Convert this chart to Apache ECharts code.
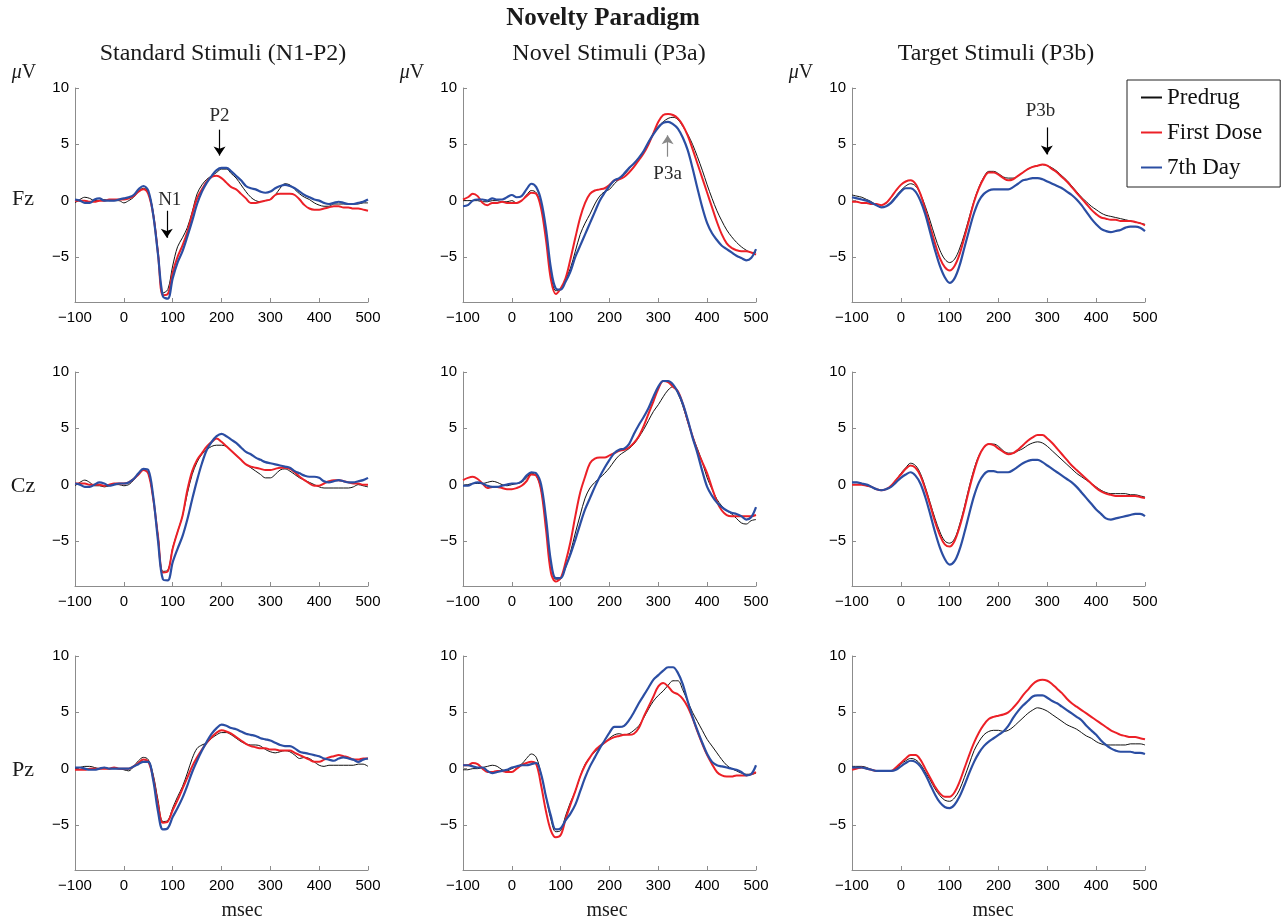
<!DOCTYPE html>
<html>
<head>
<meta charset="utf-8">
<script src="https://cdn.jsdelivr.net/npm/echarts@6/dist/echarts.min.js"></script>
<style>
  html, body { margin: 0; padding: 0; background: #fff; }
  #chart { width: 1287px; height: 924px; }
</style>
</head>
<body>
<div id="chart"></div>
<script>
// time axis (msec)
const times = [-100,-90,-80,-70,-60,-50,-40,-30,-20,-10,
  0,10,20,30,40,50,60,70,80,90,
  100,110,120,130,140,150,160,170,180,190,
  200,210,220,230,240,250,260,270,280,290,
  300,310,320,330,340,350,360,370,380,390,
  400,410,420,430,440,450,460,470,480,490,
  500];
const seriesNames = ['Predrug', 'First Dose', '7th Day'];
const rowNames = ['Fz', 'Cz', 'Pz'];
const colNames = ['Standard Stimuli (N1-P2)', 'Novel Stimuli (P3a)', 'Target Stimuli (P3b)'];
const yTicks = [-5, 0, 5, 10];

// Standard stimuli
const stdFzPre = [-0.2,0.1,0.3,0.2,0.0,0.0,0.1,0.0,0.0,0.0,
  -0.2,0.0,0.3,0.8,1.1,0.8,-1.0,-4.5,-8.2,-7.9,
  -5.8,-4.1,-3.3,-2.4,-1.0,0.6,1.4,1.9,2.2,2.5,
  2.8,2.8,2.4,2.0,1.4,0.8,0.3,0.0,-0.1,0.0,
  0.1,0.5,1.1,1.5,1.4,1.0,0.6,0.3,0.1,-0.2,
  -0.4,-0.5,-0.5,-0.3,-0.3,-0.3,-0.3,-0.3,-0.3,-0.2,
  -0.2];
const stdFzFirst = [0.0,0.0,0.0,-0.1,-0.1,0.0,0.0,0.1,0.1,0.1,
  0.1,0.2,0.4,0.8,1.0,0.6,-1.2,-4.7,-8.4,-8.3,
  -6.4,-5.0,-4.0,-2.8,-1.2,0.2,1.0,1.7,2.1,2.2,
  2.0,1.6,1.2,1.0,0.6,0.2,-0.2,-0.2,-0.1,0.0,
  0.1,0.5,0.6,0.6,0.6,0.5,0.1,-0.4,-0.7,-0.8,
  -0.8,-0.7,-0.6,-0.5,-0.5,-0.6,-0.6,-0.7,-0.7,-0.8,
  -0.9];
const stdFzDay7 = [0.1,0.0,-0.2,-0.2,0.1,0.2,0.0,0.0,0.0,0.1,
  0.2,0.3,0.5,1.0,1.3,0.9,-1.2,-4.8,-8.5,-8.7,
  -6.9,-5.5,-4.5,-3.2,-1.8,-0.3,0.8,1.6,2.2,2.7,
  2.9,2.9,2.6,2.2,1.8,1.3,1.1,1.0,0.8,0.7,
  0.8,1.1,1.3,1.4,1.3,1.1,0.8,0.5,0.3,0.1,
  0.0,-0.2,-0.3,-0.2,-0.1,-0.2,-0.3,-0.3,-0.2,-0.1,
  0.1];
const stdCzPre = [-0.1,0.2,0.4,0.2,-0.1,-0.1,-0.2,-0.1,0.0,0.0,
  -0.1,0.0,0.4,0.9,1.3,1.0,-1.2,-4.5,-7.7,-7.6,
  -5.6,-4.2,-2.8,-0.8,0.9,2.0,2.7,3.1,3.4,3.5,
  3.5,3.4,3.0,2.6,2.2,1.8,1.5,1.2,0.9,0.6,
  0.6,0.9,1.3,1.4,1.2,0.9,0.6,0.4,0.2,0.0,
  -0.2,-0.3,-0.3,-0.3,-0.3,-0.3,-0.3,-0.2,0.0,-0.1,
  -0.2];
const stdCzFirst = [0.1,0.1,0.1,0.0,0.0,0.0,-0.1,0.0,0.1,0.1,
  0.1,0.2,0.5,0.9,1.3,1.0,-1.2,-4.6,-7.8,-7.7,
  -5.7,-4.2,-2.8,-0.5,1.2,2.2,2.8,3.4,3.8,4.1,
  3.8,3.4,3.0,2.6,2.2,1.8,1.6,1.5,1.4,1.3,
  1.3,1.4,1.5,1.5,1.4,1.1,0.7,0.4,0.1,-0.1,
  -0.1,0.1,0.3,0.4,0.4,0.3,0.2,0.1,0.1,0.0,
  0.0];
const stdCzDay7 = [0.1,0.0,-0.2,-0.2,0.0,0.2,0.1,-0.1,0.0,0.1,
  0.1,0.2,0.5,1.0,1.4,1.3,-1.0,-5.0,-8.4,-8.5,
  -6.9,-5.7,-4.6,-3.1,-1.3,0.4,1.9,3.1,3.8,4.3,
  4.5,4.3,4.0,3.7,3.3,2.9,2.7,2.4,2.2,2.0,
  1.9,1.8,1.7,1.6,1.5,1.2,1.0,0.8,0.7,0.7,
  0.6,0.3,0.2,0.3,0.4,0.3,0.2,0.2,0.3,0.4,
  0.6];
const stdPzPre = [0.0,0.1,0.2,0.2,0.1,0.0,0.1,0.0,0.0,0.0,
  -0.1,-0.2,0.2,0.7,1.0,0.8,-0.5,-2.8,-4.7,-4.6,
  -3.5,-2.5,-1.6,-0.4,0.9,1.8,2.1,2.3,2.7,3.0,
  3.2,3.2,3.0,2.7,2.4,2.2,2.1,2.1,2.0,1.7,
  1.5,1.4,1.5,1.6,1.5,1.2,0.9,1.0,0.9,0.6,
  0.3,0.2,0.3,0.3,0.3,0.3,0.3,0.3,0.4,0.4,
  0.2];
const stdPzFirst = [-0.1,-0.1,-0.1,0.0,0.0,0.0,0.0,0.0,0.1,0.0,
  0.0,0.0,0.2,0.5,0.8,0.6,-0.8,-3.2,-4.8,-4.7,
  -3.7,-2.8,-1.8,-0.8,0.2,1.0,1.7,2.3,2.8,3.2,
  3.4,3.3,3.1,2.8,2.5,2.2,2.0,1.9,1.8,1.8,
  1.7,1.7,1.6,1.6,1.6,1.4,1.2,1.0,0.8,0.6,
  0.6,0.8,1.0,1.1,1.2,1.1,1.0,0.8,0.8,0.9,
  0.9];
const stdPzDay7 = [0.1,0.1,0.0,-0.1,-0.1,0.0,0.1,0.0,0.0,0.0,
  0.0,0.0,0.2,0.4,0.6,0.6,-1.0,-3.8,-5.4,-5.3,
  -4.3,-3.5,-2.6,-1.5,-0.3,0.7,1.6,2.4,3.1,3.6,
  3.9,3.8,3.6,3.5,3.3,3.1,3.0,2.9,2.7,2.6,
  2.5,2.3,2.1,2.0,2.0,1.8,1.5,1.4,1.3,1.2,
  1.1,0.9,0.8,0.7,0.9,1.0,0.9,0.8,0.6,0.8,
  0.9];

// Novel stimuli
const nvFzPre = [0.0,0.0,0.0,0.0,-0.1,-0.1,0.0,0.0,-0.1,-0.1,
  0.0,-0.2,0.0,0.5,0.9,0.7,-0.5,-3.0,-6.5,-8.0,
  -7.8,-7.0,-6.0,-4.5,-3.0,-2.0,-1.2,-0.3,0.4,0.8,
  1.0,1.5,1.9,2.3,2.8,3.3,3.8,4.4,5.2,6.0,
  6.6,7.0,7.3,7.4,7.2,6.6,5.9,5.0,3.9,2.7,
  1.4,0.2,-0.9,-1.8,-2.6,-3.2,-3.7,-4.1,-4.4,-4.6,
  -4.6];
const nvFzFirst = [0.1,0.3,0.6,0.4,-0.2,-0.4,-0.2,-0.2,-0.1,-0.2,
  -0.2,-0.2,0.0,0.4,0.7,0.6,-0.7,-3.5,-7.0,-8.3,
  -7.8,-6.9,-5.2,-3.3,-1.5,-0.2,0.6,0.9,1.0,1.1,
  1.4,1.8,1.9,2.1,2.5,3.0,3.6,4.2,5.0,6.0,
  7.0,7.6,7.7,7.6,7.3,6.7,5.8,4.6,3.3,2.0,
  0.7,-0.6,-1.9,-3.0,-3.8,-4.2,-4.4,-4.5,-4.5,-4.6,
  -4.8];
const nvFzDay7 = [-0.5,-0.4,0.0,0.1,0.1,0.0,0.2,0.1,0.1,0.3,
  0.5,0.3,0.4,1.0,1.5,1.2,0.0,-2.5,-6.0,-7.8,
  -7.9,-7.2,-6.3,-5.0,-4.0,-3.0,-2.0,-1.0,0.0,0.7,
  1.3,1.8,2.0,2.4,2.9,3.3,3.8,4.4,5.2,5.9,
  6.5,6.9,7.0,6.8,6.4,5.6,4.5,2.9,1.1,-0.6,
  -2.0,-2.9,-3.5,-4.0,-4.3,-4.6,-4.9,-5.1,-5.3,-5.1,
  -4.3];
const nvCzPre = [-0.1,0.0,0.1,0.1,0.1,0.2,0.3,0.2,0.0,-0.1,
  0.0,0.1,0.2,0.6,1.0,0.8,-0.5,-3.5,-7.0,-8.4,
  -8.3,-7.4,-6.0,-4.3,-2.7,-1.2,-0.3,0.2,0.6,1.0,
  1.5,2.1,2.6,2.9,3.2,3.6,4.2,4.9,5.7,6.5,
  7.1,7.8,8.4,8.7,8.1,7.0,5.6,4.3,3.2,2.0,
  0.6,-0.4,-1.3,-1.9,-2.3,-2.6,-3.0,-3.4,-3.5,-3.2,
  -3.1];
const nvCzFirst = [0.4,0.6,0.7,0.5,0.1,-0.3,-0.2,-0.2,-0.3,-0.4,
  -0.4,-0.3,-0.1,0.3,0.9,0.8,-0.5,-4.0,-7.8,-8.6,
  -8.3,-6.9,-5.1,-2.8,-0.7,0.7,1.9,2.3,2.4,2.4,
  2.6,2.8,3.0,3.1,3.3,3.7,4.3,5.2,6.3,7.4,
  8.5,9.2,9.1,8.7,8.3,7.2,5.7,4.3,3.0,2.0,
  1.0,-0.3,-1.5,-2.3,-2.7,-2.8,-2.8,-2.8,-2.8,-2.8,
  -2.7];
const nvCzDay7 = [-0.1,-0.1,0.1,0.2,0.1,-0.1,-0.2,-0.2,-0.1,0.0,
  0.1,0.1,0.3,0.8,1.1,1.0,0.0,-3.0,-6.8,-8.3,
  -8.3,-7.3,-6.2,-4.9,-3.5,-2.2,-1.2,-0.2,0.7,1.5,
  2.2,2.8,3.1,3.2,3.6,4.5,5.3,6.0,6.8,7.8,
  8.7,9.2,9.2,8.9,8.2,7.2,5.8,4.2,2.8,1.2,
  -0.2,-1.0,-1.6,-2.0,-2.3,-2.5,-2.6,-2.8,-3.1,-2.9,
  -2.0];
const nvPzPre = [-0.1,-0.1,0.0,0.0,0.1,0.2,0.3,0.2,-0.1,-0.2,
  0.0,0.2,0.4,0.9,1.3,1.0,-0.5,-2.5,-4.5,-5.6,
  -5.5,-4.2,-3.0,-2.0,-0.7,0.4,1.0,1.5,1.9,2.3,
  2.7,3.0,3.1,3.0,3.1,3.4,3.8,4.5,5.3,6.0,
  6.5,6.9,7.4,7.8,7.8,7.0,6.0,5.0,4.2,3.4,
  2.6,2.0,1.4,0.8,0.3,0.0,-0.2,-0.4,-0.5,-0.5,
  -0.4];
const nvPzFirst = [0.3,0.3,0.5,0.4,0.0,-0.3,-0.3,-0.2,-0.2,-0.3,
  -0.3,0.0,0.3,0.5,0.6,0.4,-1.5,-3.8,-5.5,-6.1,
  -5.9,-4.5,-3.2,-2.0,-0.7,0.3,1.0,1.6,2.0,2.3,
  2.6,2.8,2.9,3.0,3.0,3.1,3.6,4.6,5.5,6.4,
  7.3,7.6,7.3,6.8,6.6,6.2,5.5,4.5,3.3,2.2,
  1.2,0.4,-0.3,-0.6,-0.7,-0.7,-0.6,-0.6,-0.6,-0.5,
  -0.3];
const nvPzDay7 = [0.3,0.3,0.2,0.1,0.1,-0.2,-0.4,-0.3,-0.2,-0.1,
  0.1,0.2,0.3,0.3,0.4,0.5,-0.5,-2.5,-4.2,-5.4,
  -5.3,-4.6,-4.0,-3.2,-2.0,-0.8,0.2,1.0,1.8,2.5,
  3.2,3.7,3.7,3.8,4.3,5.0,5.8,6.5,7.2,7.9,
  8.3,8.7,9.0,9.0,8.5,7.5,6.0,4.6,3.4,2.3,
  1.3,0.6,0.3,0.2,0.1,0.0,-0.1,-0.3,-0.6,-0.5,
  0.3];

// Target stimuli
const tgFzPre = [0.5,0.4,0.3,0.1,-0.1,-0.4,-0.6,-0.5,-0.1,0.4,
  0.9,1.3,1.5,1.3,0.6,-0.5,-1.8,-3.2,-4.4,-5.2,
  -5.5,-5.2,-4.3,-3.0,-1.5,0.0,1.2,2.1,2.6,2.6,
  2.4,2.1,2.0,2.0,2.2,2.5,2.8,3.0,3.1,3.2,
  3.1,2.9,2.6,2.2,1.8,1.3,0.8,0.3,-0.1,-0.5,
  -0.8,-1.1,-1.3,-1.4,-1.5,-1.6,-1.7,-1.8,-1.9,-2.0,
  -2.1];
const tgFzFirst = [-0.1,-0.1,-0.2,-0.2,-0.3,-0.3,-0.4,-0.2,0.3,0.9,
  1.4,1.7,1.8,1.5,0.6,-0.8,-2.3,-3.8,-5.1,-5.9,
  -6.2,-5.8,-4.8,-3.3,-1.7,-0.1,1.1,2.0,2.5,2.5,
  2.3,2.0,1.8,1.9,2.2,2.5,2.8,3.0,3.1,3.2,
  3.1,2.8,2.5,2.1,1.7,1.2,0.7,0.2,-0.3,-0.8,
  -1.2,-1.5,-1.6,-1.7,-1.7,-1.8,-1.8,-1.8,-1.9,-2.0,
  -2.2];
const tgFzDay7 = [0.3,0.2,0.1,0.0,-0.2,-0.4,-0.6,-0.5,-0.2,0.3,
  0.8,1.1,1.1,0.8,0.0,-1.2,-2.8,-4.4,-5.8,-6.8,
  -7.3,-6.9,-5.8,-4.2,-2.6,-1.1,0.0,0.6,0.9,1.0,
  1.0,1.0,1.0,1.2,1.5,1.8,1.9,2.0,2.0,1.9,
  1.7,1.5,1.3,1.1,0.8,0.5,0.1,-0.4,-1.0,-1.6,
  -2.1,-2.5,-2.7,-2.8,-2.7,-2.6,-2.4,-2.3,-2.3,-2.4,
  -2.7];
const tgCzPre = [0.2,0.2,0.1,0.0,-0.2,-0.4,-0.5,-0.4,-0.1,0.4,
  1.0,1.5,1.9,1.7,1.0,-0.2,-1.6,-3.0,-4.2,-5.0,
  -5.2,-4.8,-3.6,-2.0,-0.2,1.4,2.6,3.3,3.6,3.6,
  3.4,3.0,2.8,2.8,3.0,3.2,3.5,3.7,3.8,3.7,
  3.4,3.0,2.6,2.2,1.8,1.4,1.0,0.7,0.4,0.1,
  -0.2,-0.5,-0.7,-0.8,-0.8,-0.8,-0.8,-0.9,-0.9,-1.0,
  -1.1];
const tgCzFirst = [0.0,0.0,0.0,-0.1,-0.2,-0.4,-0.5,-0.4,-0.1,0.4,
  0.9,1.4,1.7,1.5,0.8,-0.4,-1.8,-3.3,-4.5,-5.3,
  -5.5,-5.0,-3.8,-2.2,-0.4,1.2,2.5,3.3,3.6,3.5,
  3.2,2.9,2.7,2.8,3.1,3.5,3.9,4.2,4.4,4.4,
  4.1,3.7,3.2,2.7,2.2,1.7,1.3,0.9,0.5,0.1,
  -0.3,-0.6,-0.8,-0.9,-1.0,-1.0,-1.0,-1.0,-1.0,-1.1,
  -1.2];
const tgCzDay7 = [0.2,0.2,0.1,0.0,-0.2,-0.4,-0.5,-0.4,-0.2,0.2,
  0.6,0.9,1.1,0.8,0.1,-1.1,-2.6,-4.2,-5.6,-6.6,
  -7.1,-6.8,-5.8,-4.3,-2.6,-1.0,0.2,0.9,1.2,1.2,
  1.1,1.1,1.1,1.3,1.6,1.9,2.1,2.2,2.2,2.0,
  1.7,1.4,1.1,0.8,0.5,0.2,-0.2,-0.7,-1.2,-1.7,
  -2.2,-2.6,-3.0,-3.1,-3.0,-2.9,-2.8,-2.7,-2.6,-2.6,
  -2.8];
const tgPzPre = [0.2,0.2,0.2,0.1,-0.1,-0.2,-0.2,-0.2,-0.2,0.0,
  0.4,0.7,0.9,0.8,0.4,-0.3,-1.0,-1.8,-2.4,-2.8,
  -2.9,-2.6,-1.9,-0.8,0.4,1.6,2.4,3.0,3.3,3.4,
  3.4,3.3,3.4,3.7,4.1,4.5,4.9,5.2,5.4,5.3,
  5.1,4.8,4.5,4.2,3.9,3.7,3.5,3.2,2.9,2.7,
  2.4,2.2,2.1,2.1,2.1,2.1,2.1,2.2,2.2,2.2,
  2.1];
const tgPzFirst = [-0.1,0.0,0.1,0.0,-0.1,-0.2,-0.2,-0.2,-0.2,0.1,
  0.5,0.9,1.2,1.2,0.8,0.0,-0.8,-1.6,-2.2,-2.5,
  -2.5,-2.1,-1.2,0.0,1.2,2.3,3.2,3.9,4.4,4.6,
  4.7,4.8,5.0,5.4,5.9,6.5,7.0,7.5,7.8,7.9,
  7.8,7.5,7.1,6.7,6.2,5.8,5.5,5.2,4.9,4.6,
  4.3,4.0,3.7,3.4,3.2,3.0,2.9,2.8,2.8,2.7,
  2.6];
const tgPzDay7 = [0.1,0.1,0.1,0.0,-0.1,-0.2,-0.2,-0.2,-0.2,-0.1,
  0.2,0.5,0.7,0.6,0.2,-0.5,-1.4,-2.3,-3.0,-3.4,
  -3.5,-3.2,-2.5,-1.5,-0.4,0.6,1.4,2.0,2.4,2.7,
  3.0,3.3,3.8,4.5,5.1,5.6,6.0,6.4,6.5,6.5,
  6.3,6.0,5.8,5.5,5.2,4.9,4.6,4.3,3.8,3.4,
  3.0,2.5,2.1,1.8,1.6,1.5,1.5,1.5,1.4,1.4,
  1.3];

// peak annotations: panel index, time, arrow start/end (µV), label and its position
const notes = [
  { panel: 0, label: 'N1', t: 88, from: -0.9, to: -3.3, lt: 94, lv: 0.05, shaft: '#000' },
  { panel: 0, label: 'P2', t: 196, from: 6.3, to: 4.0, lt: 196, lv: 7.55, shaft: '#000' },
  { panel: 1, label: 'P3a', t: 319, from: 3.9, to: 5.8, lt: 319, lv: 2.4, shaft: '#888' },
  { panel: 2, label: 'P3b', t: 299, from: 6.5, to: 4.1, lt: 286, lv: 8.0, shaft: '#000' }
];

const panels = [
  [stdFzPre, stdFzFirst, stdFzDay7], [nvFzPre, nvFzFirst, nvFzDay7], [tgFzPre, tgFzFirst, tgFzDay7],
  [stdCzPre, stdCzFirst, stdCzDay7], [nvCzPre, nvCzFirst, nvCzDay7], [tgCzPre, tgCzFirst, tgCzDay7],
  [stdPzPre, stdPzFirst, stdPzDay7], [nvPzPre, nvPzFirst, nvPzDay7], [tgPzPre, tgPzFirst, tgPzDay7]
];

const colLeft = [75, 463, 852];
const rowTop = [88, 372, 656];
const gridW = 293, gridH = 214;
const lineColors = ['#111111', '#ec2027', '#2b4ea3'];
const lineWidths = [1, 2, 2.2];
const serif = '"Liberation Serif", "Times New Roman", serif';
const axisGrey = '#8c8c8c';
const tickFont = { color: '#000', fontFamily: 'Liberation Sans', fontSize: 15 };

const grids = [], xAxes = [], yAxes = [], series = [];
panels.forEach((p, i) => {
  const row = Math.floor(i / 3), col = i % 3;
  grids.push({ left: colLeft[col], top: rowTop[row], width: gridW, height: gridH });
  xAxes.push({
    gridIndex: i, type: 'value', min: -100, max: 500, interval: 100,
    axisLine: { onZero: false, lineStyle: { color: axisGrey, width: 1 } },
    axisTick: { inside: true, length: 4, lineStyle: { color: axisGrey } },
    axisLabel: Object.assign({ margin: 8, formatter: v => String(v).replace('-', '\u2212') }, tickFont),
    splitLine: { show: false }
  });
  yAxes.push({
    gridIndex: i, type: 'value', min: -9, max: 10,
    axisLine: { show: true, onZero: false, lineStyle: { color: axisGrey, width: 1 } },
    axisTick: { show: true, inside: true, length: 4, customValues: yTicks, lineStyle: { color: axisGrey } },
    axisLabel: Object.assign({ margin: 6, customValues: yTicks, formatter: v => String(v).replace('-', '\u2212') }, tickFont),
    splitLine: { show: false }
  });
  // thin black first, then red and blue over it
  [0, 1, 2].forEach(k => {
    const s = {
      type: 'line', name: seriesNames[k], xAxisIndex: i, yAxisIndex: i,
      data: times.map((t, j) => [t, p[k][j]]),
      symbol: 'none', showSymbol: false, smooth: 0.35,
      lineStyle: { color: lineColors[k], width: lineWidths[k] },
      itemStyle: { color: lineColors[k] },
      silent: true, animation: false
    };
    if (k === 0) {
      const mine = notes.filter(n => n.panel === i);
      if (mine.length) {
        s.markLine = {
          silent: true, symbol: ['none', 'arrow'], symbolSize: 9, animation: false,
          label: { show: false }, z: 10,
          data: mine.map(n => [
            { coord: [n.t, n.from], lineStyle: { color: n.shaft, type: 'solid', width: 1.2 } },
            { coord: [n.t, n.to] }
          ])
        };
        s.markPoint = {
          silent: true, symbol: 'rect', symbolSize: 1, animation: false,
          itemStyle: { color: 'rgba(0,0,0,0)' },
          label: { show: true, position: 'inside', formatter: '{b}', color: '#2a2a2a', fontFamily: serif, fontSize: 19 },
          data: mine.map(n => ({ name: n.label, coord: [n.lt, n.lv] }))
        };
      }
    }
    series.push(s);
  });
});

function txt(str, x, y, font, extra) {
  return {
    type: 'text', x: x, y: y, silent: true,
    style: Object.assign({ text: str, fill: '#1a1a1a', font: font, textAlign: 'center', textVerticalAlign: 'middle' }, extra || {})
  };
}

const graphics = [txt('Novelty Paradigm', 603, 19, 'bold 25px ' + serif)];
const colCenters = [223, 609, 996];
const msecX = [242, 607, 993];
colNames.forEach((n, c) => {
  graphics.push(txt(n, colCenters[c], 54, '24px ' + serif));
  graphics.push(txt('{i|\u03bc}V', colLeft[c] - 51, 73, '20px ' + serif, {
    rich: { i: { font: 'italic 20px ' + serif, fill: '#1a1a1a' } }
  }));
  graphics.push(txt('msec', msecX[c], 911, '20px ' + serif));
});
const zeroY = [199, 486, 770];
rowNames.forEach((n, r) => graphics.push(txt(n, 23, zeroY[r], '22px ' + serif)));

const chart = echarts.init(document.getElementById('chart'), null, { renderer: 'canvas' });
chart.setOption({
  backgroundColor: '#fff',
  animation: false,
  grid: grids,
  xAxis: xAxes,
  yAxis: yAxes,
  legend: {
    data: seriesNames, orient: 'vertical', left: 1127, top: 80,
    icon: 'rect', itemWidth: 21, itemHeight: 2, itemGap: 12,
    padding: [6, 18, 8, 14],
    borderColor: '#222', borderWidth: 1, selectedMode: false,
    textStyle: { fontFamily: serif, fontSize: 23, color: '#111' }
  },
  graphic: graphics,
  series: series
});
</script>
</body>
</html>
